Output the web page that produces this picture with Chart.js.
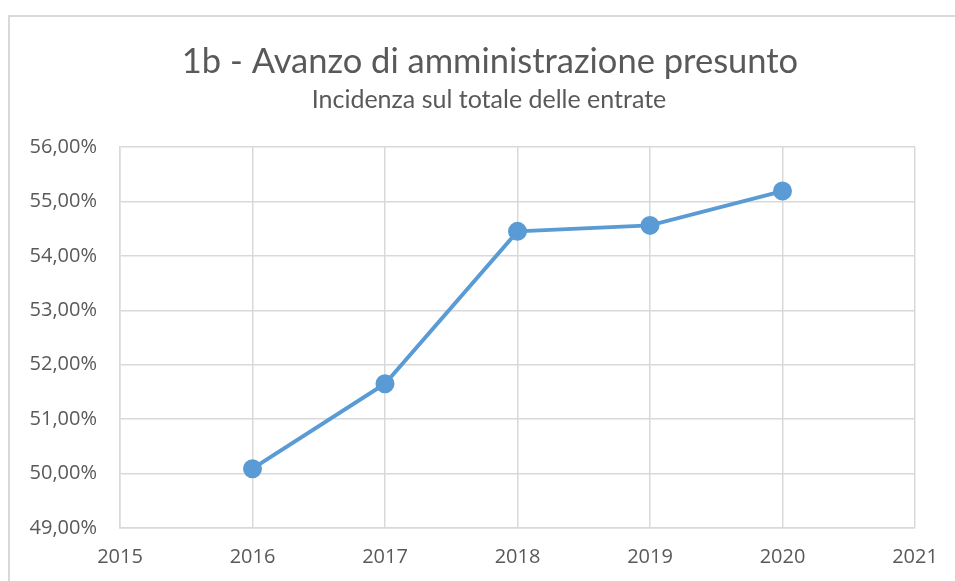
<!DOCTYPE html>
<html>
<head>
<meta charset="utf-8">
<script src="https://cdn.jsdelivr.net/npm/chart.js@4"></script>
<style>
    html, body { margin: 0; padding: 0; background: #fff; overflow: hidden; }
    #frame { position: absolute; left: 8px; top: 15px; width: 1200px; height: 1000px; border: 2px solid #d9d9d9; box-sizing: border-box; }
    #chart { position: absolute; left: 0; top: 0; }
</style>
</head>
<body>
<div id="frame"></div>
<canvas id="chart" width="955" height="581"></canvas>
<script>
// data
const years = [2016, 2017, 2018, 2019, 2020];
const incidenza = [50.09, 51.65, 54.45, 54.56, 55.19];
const titleText = "1b - Avanzo di amministrazione presunto";
const subtitleText = "Incidenza sul totale delle entrate";

const grey = "#595959";
const gridColor = "#d9d9d9";
const tickFamily = "'Open Sans', 'DejaVu Sans', sans-serif";

// Titles drawn by hand so they sit where Excel put them
const titles = {
    id: "titles",
    afterDraw(chart) {
        const ctx = chart.ctx;
        ctx.save();
        ctx.fillStyle = grey;
        ctx.textAlign = "center";
        ctx.textBaseline = "middle";
        ctx.font = "34.5px Lato";
        ctx.fillText(titleText, 490, 62);
        ctx.font = "25px Lato";
        ctx.fillText(subtitleText, 489, 100);
        ctx.restore();
    },
};

function draw() {
    new Chart(document.getElementById("chart"), {
        type: "line",
        data: {
            datasets: [{
                data: years.map((y, i) => ({ x: y, y: incidenza[i] })),
                borderColor: "#5b9bd5",
                backgroundColor: "#5b9bd5",
                borderWidth: 4,
                pointRadius: 7.5,
                pointHoverRadius: 7.5,
                tension: 0,
            }],
        },
        options: {
            responsive: false,
            animation: false,
            layout: { padding: { top: 147, right: 40, bottom: 0, left: 0 } },
            plugins: { legend: { display: false }, tooltip: { enabled: false } },
            scales: {
                x: {
                    type: "linear",
                    min: 2015,
                    max: 2021,
                    afterFit: (s) => { s.height = 53; },
                    grid: { color: gridColor, lineWidth: 1.5, drawTicks: false },
                    border: { color: gridColor, width: 1.5 },
                    ticks: { stepSize: 1, maxRotation: 0, color: grey, padding: 17, font: { family: tickFamily, size: 20 }, callback: (v) => String(v) },
                },
                y: {
                    min: 49,
                    max: 56,
                    afterFit: (s) => { s.width = 120; },
                    grid: { color: gridColor, lineWidth: 1.5, drawTicks: false },
                    border: { color: gridColor, width: 1.5 },
                    ticks: { stepSize: 1, color: grey, padding: 23, font: { family: tickFamily, size: 20 }, callback: (v) => v.toFixed(2).replace(".", ",") + "%" },
                },
            },
        },
        plugins: [titles],
    });
}

Promise.all([
    document.fonts.load("20px 'Open Sans'"),
    document.fonts.load("34px Lato"),
]).then(draw, draw);
</script>
</body>
</html>
